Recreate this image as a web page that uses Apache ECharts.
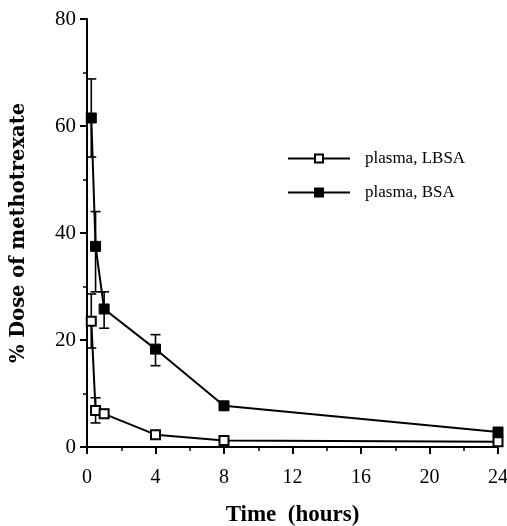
<!DOCTYPE html>
<html>
<head>
<meta charset="utf-8">
<script src="https://cdn.jsdelivr.net/npm/echarts@6/dist/echarts.min.js"></script>
<style>
  html, body { margin: 0; padding: 0; background: #fff; }
  #chart { width: 507px; height: 526px; }
</style>
</head>
<body>
<div id="chart"></div>
<script>
// Data
const times = [0.25, 0.5, 1, 4, 8, 24];
const lbsa = [23.5, 6.8, 6.2, 2.3, 1.2, 1.0];
const bsa = [61.5, 37.5, 25.8, 18.3, 7.7, 2.8];
const lbsaErr = [[0.25, 18.5, 28.6], [0.5, 4.5, 9.2], [1, 5.4, 7.0]];
const bsaErr = [[0.25, 54.2, 68.8], [0.5, 29.0, 44.0], [1, 22.2, 29.0], [4, 15.2, 21.0], [8, 7.0, 8.4]];

const serif = "'Liberation Serif', 'DejaVu Serif', serif";

function pairs(xs, ys) {
  return xs.map((x, i) => [x, ys[i]]);
}

function errorBars(params, api) {
  const x = api.value(0);
  const lo = api.coord([x, api.value(1)]);
  const hi = api.coord([x, api.value(2)]);
  const half = 5;
  const style = { stroke: "#000", lineWidth: 1.6 };
  return {
    type: "group",
    children: [
      { type: "line", shape: { x1: hi[0], y1: hi[1], x2: lo[0], y2: lo[1] }, style },
      { type: "line", shape: { x1: hi[0] - half, y1: hi[1], x2: hi[0] + half, y2: hi[1] }, style },
      { type: "line", shape: { x1: lo[0] - half, y1: lo[1], x2: lo[0] + half, y2: lo[1] }, style }
    ]
  };
}

const chart = echarts.init(document.getElementById("chart"));
chart.setOption({
  animation: false,
  backgroundColor: "#fff",
  grid: { left: 87, right: 9, top: 19, bottom: 79, outerBoundsMode: "none", containLabel: false },
  legend: {
    orient: "vertical",
    left: 282,
    top: 145,
    itemGap: 17,
    itemWidth: 62,
    itemHeight: 10,
    textStyle: { fontFamily: serif, fontSize: 17, color: "#000", padding: [0, 0, 0, 10] },
    data: ["plasma, LBSA", "plasma, BSA"]
  },
  xAxis: {
    type: "value",
    min: 0, max: 24, interval: 4,
    name: "Time  (hours)",
    nameLocation: "middle",
    nameGap: 57,
    nameTextStyle: { fontFamily: serif, fontSize: 23, fontWeight: "bold", color: "#000" },
    axisLine: { lineStyle: { color: "#000", width: 2 } },
    axisTick: { inside: false, length: 7, lineStyle: { color: "#000", width: 2 } },
    minorTick: { show: true, splitNumber: 2, length: 4, lineStyle: { color: "#000", width: 1.5 } },
    axisLabel: { fontFamily: serif, fontSize: 20, color: "#000", margin: 21 },
    splitLine: { show: false }
  },
  yAxis: {
    type: "value",
    min: 0, max: 80, interval: 20,
    name: "% Dose of methotrexate",
    nameLocation: "middle",
    nameGap: 58,
    nameTextStyle: { fontFamily: "'DejaVu Serif', serif", fontSize: 19.5, fontWeight: "bold", color: "#000" },
    axisLine: { show: true, lineStyle: { color: "#000", width: 2 } },
    axisTick: { show: true, length: 7, lineStyle: { color: "#000", width: 2 } },
    minorTick: { show: true, splitNumber: 2, length: 4, lineStyle: { color: "#000", width: 1.5 } },
    axisLabel: { fontFamily: serif, fontSize: 21, color: "#000", margin: 11 },
    splitLine: { show: false }
  },
  series: [
    {
      name: "plasma, LBSA",
      type: "line",
      data: pairs(times, lbsa),
      symbol: "rect",
      symbolSize: 9,
      showAllSymbol: true,
      lineStyle: { color: "#000", width: 2 },
      itemStyle: { color: "#fff", borderColor: "#000", borderWidth: 2 },
      z: 3
    },
    {
      name: "plasma, BSA",
      type: "line",
      data: pairs(times, bsa),
      symbol: "rect",
      symbolSize: 10,
      showAllSymbol: true,
      lineStyle: { color: "#000", width: 2 },
      itemStyle: { color: "#000", borderColor: "#000", borderWidth: 1 },
      z: 3
    },
    {
      type: "custom",
      renderItem: errorBars,
      data: lbsaErr,
      encode: { x: 0, y: [1, 2] },
      silent: true,
      z: 2
    },
    {
      type: "custom",
      renderItem: errorBars,
      data: bsaErr,
      encode: { x: 0, y: [1, 2] },
      silent: true,
      z: 2
    }
  ]
});
</script>
</body>
</html>
